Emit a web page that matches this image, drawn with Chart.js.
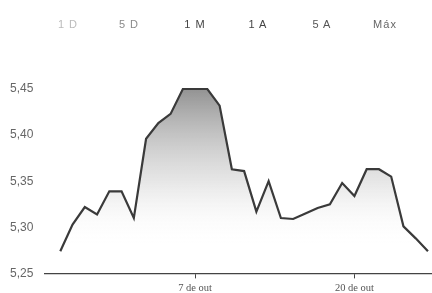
<!DOCTYPE html>
<html>
<head>
<meta charset="utf-8">
<script src="https://cdn.jsdelivr.net/npm/chart.js@4"></script>
<style>
  body { margin: 0; background: #fff; overflow: hidden; }
  #wrap { position: relative; width: 432px; height: 293px; overflow: hidden; }
  #btns { position: absolute; top: 18px; left: 0; width: 432px; height: 16px; font: 11px "Liberation Sans", Arial, sans-serif; }
  #btns span { position: absolute; transform: translateX(-50%); letter-spacing: 1px; }
</style>
</head>
<body>
<div id="wrap">
  <canvas id="ctrate" width="432" height="299"></canvas>
  <div id="btns"></div>
</div>
<script>
var ranges = ["1 D", "5 D", "1 M", "1 A", "5 A", "Máx"];
var rangeX = [68, 129, 195, 258, 322, 385];
var rangeColors = ["#bbbbbb", "#8a8a8a", "#444444", "#444444", "#555555", "#666666"];

// dias desde 26 de set
var days = [0, 1, 2, 3, 4, 5, 6, 7, 8, 9, 10, 11, 12, 13, 14, 15,
            16, 17, 18, 19, 20, 21, 22, 23, 24, 25, 26, 27, 28, 29, 30];
var rates = [5.274, 5.303, 5.322, 5.314, 5.339, 5.339, 5.310, 5.396, 5.413, 5.423,
             5.450, 5.450, 5.450, 5.432, 5.363, 5.361, 5.317, 5.350, 5.310, 5.309,
             5.315, 5.321, 5.325, 5.348, 5.334, 5.363, 5.363, 5.355, 5.301, 5.288, 5.274];
var dateTicks = { 11: "7 de out", 24: "20 de out" };

var btns = document.getElementById("btns");
ranges.forEach(function (r, i) {
  var s = document.createElement("span");
  s.textContent = r;
  s.style.left = rangeX[i] + "px";
  s.style.color = rangeColors[i];
  btns.appendChild(s);
});

var points = days.map(function (d, i) { return { x: d, y: rates[i] }; });

new Chart("ctrate", {
  type: "line",
  data: {
    datasets: [{
      data: points,
      borderColor: "#3a3a3a",
      borderWidth: 2.2,
      pointRadius: 0,
      tension: 0,
      fill: "origin",
      clip: false,
      backgroundColor: function (ctx) {
        var area = ctx.chart.chartArea;
        if (!area) return "rgba(0,0,0,0)";
        var g = ctx.chart.ctx.createLinearGradient(0, area.top, 0, area.bottom);
        g.addColorStop(0, "rgba(135,135,135,0.9)");
        g.addColorStop(0.5, "rgba(200,200,200,0.45)");
        g.addColorStop(0.85, "rgba(255,255,255,0)");
        return g;
      }
    }]
  },
  options: {
    responsive: false,
    animation: false,
    layout: { padding: { top: 89, left: 7, right: 0, bottom: 0 } },
    plugins: { legend: { display: false }, tooltip: { enabled: false } },
    scales: {
      x: {
        type: "linear",
        min: -1.3,
        max: 30.33,
        afterBuildTicks: function (axis) {
          axis.ticks = Object.keys(dateTicks).map(function (k) { return { value: Number(k) }; });
        },
        grid: { drawOnChartArea: false, tickLength: 5, color: "#444" },
        border: { color: "#444", width: 1.2 },
        ticks: {
          autoSkip: false,
          maxRotation: 0,
          padding: 4,
          color: "#555",
          font: { family: "Liberation Serif", size: 10.5 },
          callback: function (v) { return dateTicks[v] || ""; }
        }
      },
      y: {
        min: 5.25,
        max: 5.45,
        grid: { display: false },
        border: { display: false },
        ticks: {
          stepSize: 0.05,
          padding: 3,
          color: "#666",
          font: { family: "Liberation Sans", size: 12 },
          callback: function (v) { return v.toFixed(2).replace(".", ","); }
        }
      }
    }
  }
});
</script>
</body>
</html>
